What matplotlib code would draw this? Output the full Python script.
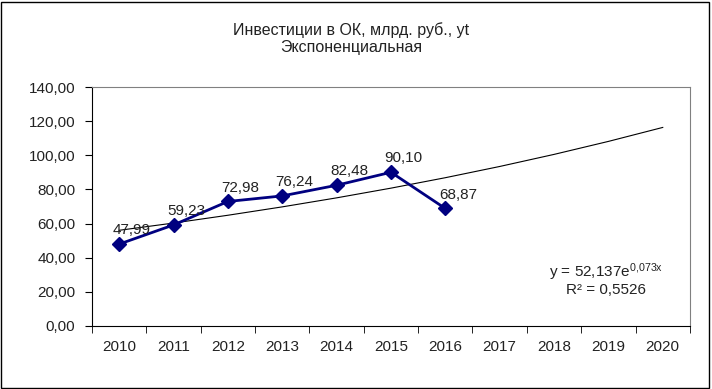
import numpy as np
import matplotlib.pyplot as plt

plt.rcParams['font.family'] = ['Liberation Sans', 'DejaVu Sans']

years = [2010, 2011, 2012, 2013, 2014, 2015, 2016, 2017, 2018, 2019, 2020]
values = [47.99, 59.23, 72.98, 76.24, 82.48, 90.10, 68.87]
trend_a = 52.137
trend_b = 0.073
r2 = 0.5526

def fmt(v, d=2):
    return f"{v:.{d}f}".replace(".", ",")

fig = plt.figure(figsize=(7.12, 3.89), dpi=100)
# outer chart border
fig.patches.append(plt.Rectangle((0.002, 0.002), 0.994, 0.994, transform=fig.transFigure,
                                 fill=False, edgecolor='black', linewidth=1))
ax = fig.add_axes([0.1292, 0.162, 0.8398, 0.614])

n = len(years)
x_all = np.arange(1, n + 1)
x_data = x_all[:len(values)]

# exponential trend line across all periods
trend = trend_a * np.exp(trend_b * x_all)
ax.plot(x_all, trend, color='black', linewidth=0.8, zorder=2)

ax.plot(x_data, values, color='#000080', linewidth=2, marker='D', markersize=7,
        markerfacecolor='#000080', markeredgecolor='#000080', zorder=3)

for xi, v in zip(x_data, values):
    ax.annotate(fmt(v), (xi, v), xytext=(9, 5), textcoords='offset points',
                ha='center', va='bottom', fontsize=11, color='#222222', zorder=4)

ax.set_xlim(0.5, n + 0.5)
ax.set_ylim(0, 140)
ax.set_yticks(np.arange(0, 141, 20))
ax.set_yticklabels([fmt(t) for t in np.arange(0, 141, 20)])
ax.set_xticks(x_all)
ax.set_xticklabels([str(y) for y in years])
ax.set_xticks(np.arange(0.5, n + 1, 1), minor=True)
ax.tick_params(axis='x', which='major', length=0, pad=10, labelsize=11, labelcolor='#222222')
ax.tick_params(axis='x', which='minor', length=5, direction='out', color='black')
ax.tick_params(axis='y', length=5, direction='out', labelsize=11, labelcolor='#222222', pad=7)

for side in ['top', 'right']:
    ax.spines[side].set_color('#808080')
for side in ['left', 'bottom']:
    ax.spines[side].set_color('black')

exp_txt = fmt(trend_b, 3).replace(",", "{,}")
ax.text(0.86, 0.226, f"y = {fmt(trend_a, 3)}e" + r"$\mathregular{^{" + exp_txt + "x}}$",
        transform=ax.transAxes, ha='center', va='center', fontsize=11, color='#222222')
ax.text(0.86, 0.151, f"R² = {fmt(r2, 4)}", transform=ax.transAxes,
        ha='center', va='center', fontsize=11, color='#222222')

fig.text(0.493, 0.922, "Инвестиции в ОК, млрд. руб., yt", ha='center', va='center',
         fontsize=11.5, color='#222222')
fig.text(0.493, 0.878, "Экспоненциальная", ha='center', va='center',
         fontsize=11.5, color='#222222')

fig.savefig("out.png", dpi=100)
